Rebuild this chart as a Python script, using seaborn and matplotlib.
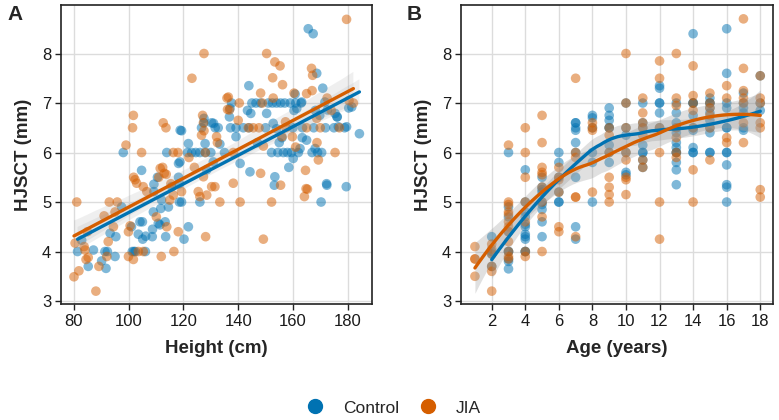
import numpy as np
import pandas as pd
import matplotlib
matplotlib.use('Agg')
import matplotlib.pyplot as plt
import seaborn as sns
from matplotlib.collections import PolyCollection
from matplotlib.lines import Line2D

# ---------------- data ----------------
# Panel A: Height (cm) vs HJSCT (mm)
height_ctrl = [81.3, 82.8, 85.2, 87.1, 90.1, 91.7, 91.3, 92.2, 93.2, 95.0, 95.3, 97.4, 101.0, 101.3, 101.9,
               102.4, 104.1, 105.0, 103.5, 105.1, 106.2, 106.1, 108.6, 108.7, 109.0, 109.2, 110.8, 111.4, 111.7,
               112.0, 113.5, 113.3, 114.5, 115.7, 118.5, 119.3, 120.2, 121.8, 126.0, 153.2, 170.3, 172.4, 179.5,
               98.0, 104.7, 109.2, 110.5, 113.9, 118.2, 118.5, 118.2, 118.7, 119.3, 118.8, 121.8, 121.5, 123.0,
               124.5, 126.0, 128.0, 130.0, 126.6, 127.5, 127.5, 130.3, 127.9, 128.5, 130.9, 131.0, 131.6, 132.7,
               133.3, 135.0, 137.2, 136.8, 137.0, 137.6, 139.2, 139.2, 140.7, 141.9, 143.4, 143.9, 144.6, 145.0,
               146.5, 144.3, 148.2, 150.4, 151.0, 152.5, 154.0, 155.5, 157.0, 159.0, 161.0, 163.0, 152.8, 152.2,
               154.5, 156.5, 158.0, 159.5, 162.0, 167.0, 169.0, 170.5, 154.0, 155.0, 156.0, 153.4, 160.1, 158.5,
               162.6, 168.1, 172.3, 160.8, 161.4, 163.2, 165.0, 163.4, 165.6, 167.4, 168.7, 170.9, 171.7, 172.6,
               175.4, 176.2, 176.6, 179.6, 181.5, 184.3, 180.4, 168.2, 160.4, 169.8, 176.1, 167.6, 171.9, 175.0,
               178.9, 144.0, 150.0, 160.0, 163.5, 147.0]
hjsct_ctrl_a = [4.0, 4.23, 3.7, 4.03, 3.81, 3.66, 4.0, 4.0, 4.37, 3.9, 4.3, 4.9, 4.5, 4.0, 4.0,
                4.0, 4.6, 4.6, 4.35, 4.25, 4.31, 4.0, 4.3, 4.45, 4.8, 5.21, 4.57, 4.54, 4.87,
                5.04, 4.3, 4.6, 4.9, 5.31, 5.0, 5.0, 4.25, 4.5, 5.0, 5.34, 5.0, 5.34, 5.31,
                6.0, 5.64, 5.36, 5.5, 6.0, 5.5, 5.37, 5.78, 5.81, 6.44, 6.45, 6.18, 6.0, 6.0,
                6.0, 6.0, 6.0, 6.0, 6.5, 6.6, 6.69, 6.6, 6.18, 5.65, 5.81, 6.59, 6.5, 6.5,
                6.17, 6.0, 6.5, 6.72, 6.89, 7.0, 6.32, 6.5, 5.78, 6.5, 6.85, 7.35, 6.79, 7.0,
                7.0, 5.61, 7.0, 6.79, 7.0, 7.0, 7.0, 7.0, 7.0, 7.0, 7.0, 7.0, 6.59, 6.0,
                6.0, 6.0, 6.0, 6.0, 6.0, 6.0, 6.0, 6.0, 6.48, 6.2, 6.3, 5.51, 5.88, 5.7,
                6.08, 6.08, 5.37, 7.18, 6.89, 7.02, 6.25, 6.3, 8.5, 8.4, 7.6, 7.3, 7.02, 6.86,
                6.79, 6.72, 6.52, 6.52, 6.92, 6.38, 6.9, 6.85, 6.85, 6.75, 6.72, 6.5, 6.5, 6.5,
                6.5, 6.5, 6.5, 6.5, 6.5, 6.2]

height_jia = [81.0, 80.4, 80.0, 81.8, 84.0, 84.4, 85.2, 83.7, 84.9, 88.0, 89.1, 91.0, 92.0, 92.5, 92.9,
              94.4, 95.0, 95.8, 99.9, 99.9, 100.5, 101.7, 102.9, 102.3, 105.3, 106.6, 103.5, 105.3, 111.9,
              110.1, 113.9, 115.0, 116.3, 116.5, 118.1, 119.3, 125.4, 126.0, 128.5, 128.1, 130.3, 133.3, 138.2,
              140.7, 149.2, 152.2, 155.5, 164.2, 165.3, 101.8, 111.5, 113.0, 113.7, 111.0, 115.4, 127.3, 131.5,
              101.7, 101.4, 99.0, 104.7, 112.6, 113.6, 112.4, 116.3, 123.1, 127.5, 127.3, 127.5, 126.6, 127.0,
              132.1, 132.4, 136.4, 136.8, 140.4, 140.0, 143.7, 145.5, 147.6, 148.2, 148.8, 150.4, 153.4, 155.3,
              152.6, 156.2, 152.8, 157.3, 157.5, 156.0, 159.8, 161.0, 166.8, 167.2, 165.0, 167.0, 160.4, 168.7,
              174.0, 175.4, 179.6, 182.1, 169.3, 138.2, 149.2, 148.2, 164.6, 164.8, 135.9, 136.1, 168.8, 118.0,
              122.0, 124.0, 128.0, 165.0, 170.0, 177.0, 180.5, 172.5]
hjsct_jia_a = [5.0, 4.17, 3.49, 3.61, 4.03, 3.84, 3.88, 4.1, 4.4, 3.2, 3.7, 4.72, 3.9, 4.2, 5.0,
               4.5, 4.8, 5.0, 3.9, 4.4, 4.52, 3.84, 5.38, 5.45, 5.31, 5.21, 4.0, 4.0, 3.9,
               4.7, 4.5, 5.04, 5.14, 4.0, 4.4, 5.21, 5.21, 5.11, 5.14, 4.3, 5.31, 5.0, 5.38,
               5.0, 4.25, 5.0, 5.34, 5.11, 5.26, 5.5, 5.68, 5.58, 5.56, 5.5, 5.37, 5.51, 5.31,
               6.75, 6.5, 6.15, 6.0, 6.6, 6.5, 5.7, 6.0, 7.5, 8.0, 6.6, 6.44, 6.35, 6.75,
               6.32, 6.2, 7.12, 6.86, 7.0, 6.65, 6.5, 6.5, 6.5, 7.2, 7.0, 8.0, 7.83, 7.75,
               7.51, 7.37, 7.1, 6.62, 6.5, 6.32, 6.32, 6.11, 7.7, 7.56, 7.19, 7.25, 7.2, 6.69,
               6.85, 6.0, 8.69, 7.0, 5.85, 6.0, 6.13, 5.58, 5.64, 5.27, 7.1, 6.87, 6.2, 6.0,
               5.9, 5.7, 6.0, 6.5, 6.5, 6.5, 7.05, 7.1]

# Panel B: Age (years) vs HJSCT (mm)
age_ctrl = [2, 2, 2, 2,
            3, 3, 3, 3, 3, 3, 3, 3, 3,
            4, 4, 4, 4, 4, 4, 4, 4, 4, 4, 4,
            5, 5, 5, 5, 5, 5, 5, 5, 5,
            6, 6, 6, 6, 6, 6,
            7, 7, 7, 7, 7, 7, 7, 7, 7,
            8, 8, 8, 8, 8, 8,
            9, 9, 9, 9, 9, 9, 9, 9,
            10, 10, 10, 10, 10, 10,
            11, 11, 11, 11, 11, 11, 11, 11,
            12, 12, 12, 12, 12, 12,
            13, 13, 13, 13, 13, 13, 13, 13, 13, 13, 13, 13,
            14, 14, 14, 14, 14, 14, 14, 14, 14, 14,
            15, 15, 15, 15, 15, 15, 15, 15, 15, 15,
            16, 16, 16, 16, 16, 16, 16, 16, 16, 16, 16, 16,
            17, 17, 17, 17, 17, 17,
            18, 18, 18]
hjsct_ctrl_b = [4.3, 4.0, 3.95, 3.7,
                6.0, 4.9, 4.7, 4.4, 4.0, 4.0, 3.85, 3.8, 3.65,
                5.65, 5.0, 4.8, 4.7, 4.55, 4.5, 4.35, 4.3, 4.25, 4.0, 4.0,
                5.5, 5.3, 5.25, 5.2, 5.0, 4.95, 4.85, 4.6, 4.3,
                6.0, 5.8, 5.5, 5.2, 5.0, 5.0,
                6.6, 6.6, 6.5, 6.45, 6.2, 6.0, 5.5, 4.5, 4.25,
                6.75, 6.7, 6.5, 6.0, 5.8, 5.0,
                6.9, 6.75, 6.65, 6.5, 6.5, 6.15, 6.0, 5.8,
                7.0, 6.5, 6.35, 6.0, 5.6, 5.55,
                7.0, 6.6, 6.5, 6.15, 6.0, 6.0, 5.85, 5.7,
                7.35, 7.3, 7.0, 7.0, 6.8, 6.5,
                7.0, 6.8, 6.6, 6.5, 6.4, 6.2, 6.1, 6.0, 6.0, 5.8, 5.65, 5.35,
                8.4, 7.0, 7.0, 7.0, 6.75, 6.5, 6.45, 6.1, 6.0, 6.0,
                7.1, 7.0, 7.0, 6.9, 6.8, 6.65, 6.5, 6.4, 6.0, 6.0,
                8.5, 7.6, 7.0, 6.9, 6.5, 6.5, 6.0, 6.0, 5.75, 5.35, 5.3, 5.0,
                7.2, 7.0, 6.9, 6.8, 6.5, 6.45,
                7.55, 7.0, 6.85]

age_jia = [1, 1, 1, 1,
           2, 2, 2, 2, 2, 2,
           3, 3, 3, 3, 3, 3, 3, 3, 3, 3, 3, 3,
           4, 4, 4, 4, 4, 4, 4,
           5, 5, 5, 5, 5, 5, 5, 5, 5,
           6, 6, 6, 6, 6, 6,
           7, 7, 7, 7, 7, 7,
           8, 8, 8, 8,
           9, 9, 9, 9, 9, 9, 9,
           10, 10, 10, 10, 10, 10, 10, 10,
           11, 11, 11, 11, 11, 11, 11,
           12, 12, 12, 12, 12, 12,
           13, 13, 13, 13, 13, 13, 13,
           14, 14, 14, 14, 14, 14, 14,
           15, 15, 15, 15, 15, 15,
           16, 16, 16, 16,
           17, 17, 17, 17, 17, 17, 17,
           18, 18, 18, 18, 18, 18, 18]
hjsct_jia_b = [4.1, 3.85, 3.85, 3.5,
               4.15, 4.05, 3.95, 3.7, 3.6, 3.2,
               6.15, 5.0, 4.95, 4.8, 4.75, 4.6, 4.5, 4.4, 4.2, 4.0, 3.9, 3.85,
               6.5, 6.0, 5.5, 5.0, 4.6, 4.0, 3.9,
               6.75, 6.2, 5.7, 5.6, 5.55, 5.3, 5.0, 4.7, 4.0,
               5.7, 5.5, 5.45, 5.2, 4.5, 4.4,
               7.5, 6.0, 5.9, 5.1, 5.1, 4.3,
               6.6, 6.5, 6.45, 5.2,
               6.5, 6.35, 6.0, 5.5, 5.3, 5.15, 5.0,
               8.0, 7.0, 6.5, 6.0, 5.85, 5.5, 5.45, 5.15,
               7.1, 6.8, 6.6, 6.5, 6.35, 5.85, 5.7,
               7.85, 7.5, 6.5, 6.0, 5.0, 4.25,
               8.0, 7.1, 6.95, 6.5, 6.3, 6.0, 5.9,
               7.75, 7.15, 7.0, 6.85, 6.5, 5.65, 5.0,
               7.2, 7.0, 6.9, 6.75, 6.5, 5.85,
               7.35, 7.1, 6.3, 6.2,
               8.7, 7.7, 7.25, 7.1, 7.0, 6.6, 6.2,
               7.55, 7.1, 7.0, 6.6, 6.5, 5.25, 5.1]

groups = ['Control', 'JIA']
palette = {'Control': '#0072B2', 'JIA': '#D55E00'}

df_a = pd.DataFrame({'Height': height_ctrl + height_jia,
                     'HJSCT': hjsct_ctrl_a + hjsct_jia_a,
                     'Group': ['Control'] * len(height_ctrl) + ['JIA'] * len(height_jia)})
df_b = pd.DataFrame({'Age': age_ctrl + age_jia,
                     'HJSCT': hjsct_ctrl_b + hjsct_jia_b,
                     'Group': ['Control'] * len(age_ctrl) + ['JIA'] * len(age_jia)})


def loess(x, y, xs, span=0.75):
    # local quadratic fit with tricube weights (like R's loess), plus a 95% band
    x = np.asarray(x, float)
    y = np.asarray(y, float)
    n = len(x)
    q = int(np.floor(n * span))

    def row(x0):
        d = np.abs(x - x0)
        h = np.sort(d)[q - 1] * 1.0001
        w = np.clip(1 - (d / h) ** 3, 0, None) ** 3
        X = np.column_stack([np.ones(n), x - x0, (x - x0) ** 2])
        A = X.T @ (w[:, None] * X)
        return np.linalg.solve(A, (X * w[:, None]).T)[0]

    L = np.array([row(v) for v in x])
    resid = y - L @ y
    M = np.eye(n) - L
    sigma = np.sqrt(np.sum(resid ** 2) / np.trace(M.T @ M))
    Lg = np.array([row(v) for v in xs])
    fit = Lg @ y
    se = sigma * np.sqrt(np.sum(Lg ** 2, axis=1))
    return fit, fit - 1.97 * se, fit + 1.97 * se


sns.set_theme(style='whitegrid')
plt.rcParams['font.family'] = ['Liberation Sans', 'DejaVu Sans']

fig = plt.figure(figsize=(7.79, 4.2), dpi=100)
axA = fig.add_axes([61 / 779, 1 - 304 / 420, 311 / 779, 299 / 420])
axB = fig.add_axes([461 / 779, 1 - 304 / 420, 312 / 779, 299 / 420])

# A: scatter + linear fits
sns.scatterplot(data=df_a, x='Height', y='HJSCT', hue='Group', palette=palette,
                s=48, alpha=0.5, linewidth=0, ax=axA, legend=False)
for g in groups:
    sns.regplot(data=df_a[df_a['Group'] == g], x='Height', y='HJSCT', scatter=False,
                color=palette[g], line_kws={'lw': 2.4}, ax=axA, seed=1)
for coll in axA.collections:
    if isinstance(coll, PolyCollection):
        coll.set_facecolor((0.6, 0.6, 0.6, 0.3))
        coll.set_edgecolor('none')

# B: scatter + loess
sns.scatterplot(data=df_b, x='Age', y='HJSCT', hue='Group', palette=palette,
                s=48, alpha=0.5, linewidth=0, ax=axB, legend=False)
for g in groups:
    sub = df_b[df_b['Group'] == g]
    xs = np.linspace(sub['Age'].min(), sub['Age'].max(), 80)
    fit, lo, hi = loess(sub['Age'], sub['HJSCT'], xs)
    axB.fill_between(xs, lo, hi, color=(0.6, 0.6, 0.6, 0.3), lw=0)
    axB.plot(xs, fit, color=palette[g], lw=2.4)

for ax in (axA, axB):
    ax.set_ylim(2.94, 8.98)
    ax.set_yticks([3, 4, 5, 6, 7, 8])
    ax.grid(True, color='#dcdcdc', lw=1)
    ax.set_facecolor('white')
    for sp in ax.spines.values():
        sp.set_color('#222222')
        sp.set_linewidth(1.2)
    ax.tick_params(axis='both', which='major', length=4, width=1, color='#222222',
                   labelsize=12, labelcolor='#1a1a1a', pad=3, bottom=True, left=True)
    ax.set_ylabel('HJSCT (mm)', fontsize=13.5, fontweight='bold', labelpad=7)

axA.set_xlim(75.25, 188.9)
axA.set_xticks([80, 100, 120, 140, 160, 180])
axA.set_xlabel('Height (cm)', fontsize=13.5, fontweight='bold', labelpad=8)
axB.set_xlim(0.17, 18.76)
axB.set_xticks([2, 4, 6, 8, 10, 12, 14, 16, 18])
axB.set_xlabel('Age (years)', fontsize=13.5, fontweight='bold', labelpad=8)

fig.text(7 / 779, 1 - 14 / 420, 'A', fontsize=15, fontweight='bold', va='center', ha='left')
fig.text(407 / 779, 1 - 14 / 420, 'B', fontsize=15, fontweight='bold', va='center', ha='left')

handles = [Line2D([], [], marker='o', ls='', color=palette[g], markersize=10) for g in groups]
fig.legend(handles, groups, loc='center', bbox_to_anchor=(0.5, 1 - 408 / 420), ncol=2,
           frameon=False, fontsize=12.5, handletextpad=0.6, columnspacing=0.7)

fig.savefig('out.png', dpi=100)
